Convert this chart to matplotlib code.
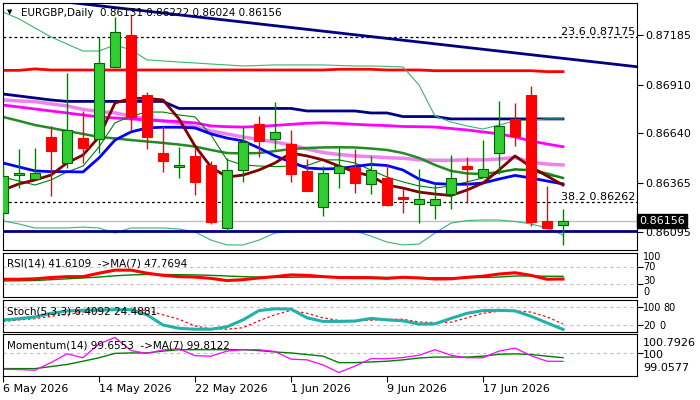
import matplotlib
matplotlib.use("Agg")
import matplotlib.pyplot as plt

# EURGBP daily candles (6 May .. 24 Jun 2026)
opens = [0.86201, 0.86408, 0.86386, 0.86618, 0.86478, 0.86613, 0.86607, 0.87006, 0.87185, 0.86851,
         0.86530, 0.86452, 0.86515, 0.86463, 0.86114, 0.86435, 0.86690, 0.86607, 0.86581, 0.86432,
         0.86230, 0.86419, 0.86452, 0.86358, 0.86391, 0.86289, 0.86247, 0.86242, 0.86303, 0.86459,
         0.86397, 0.86530, 0.86720, 0.86853, 0.86155, 0.86131]
highs = [0.86465, 0.86553, 0.86559, 0.86681, 0.86975, 0.86766, 0.87176, 0.87285, 0.87296, 0.86871,
         0.86681, 0.86566, 0.86561, 0.86489, 0.86502, 0.86674, 0.86736, 0.86814, 0.86659, 0.86496,
         0.86459, 0.86563, 0.86552, 0.86515, 0.86470, 0.86336, 0.86441, 0.86363, 0.86519, 0.86509,
         0.86603, 0.86819, 0.86807, 0.86902, 0.86350, 0.86222]
lows = [0.86166, 0.86337, 0.86385, 0.86295, 0.86450, 0.86476, 0.86533, 0.87002, 0.86653, 0.86553,
        0.86428, 0.86394, 0.86300, 0.86140, 0.86101, 0.86372, 0.86511, 0.86552, 0.86372, 0.86319,
        0.86184, 0.86339, 0.86308, 0.86303, 0.86238, 0.86201, 0.86142, 0.86167, 0.86219, 0.86253,
        0.86397, 0.86415, 0.86570, 0.86127, 0.86110, 0.86024]
closes = [0.86404, 0.86419, 0.86419, 0.86544, 0.86657, 0.86561, 0.87028, 0.87203, 0.86732, 0.86622,
          0.86489, 0.86463, 0.86372, 0.86147, 0.86435, 0.86591, 0.86599, 0.86646, 0.86417, 0.86322,
          0.86419, 0.86459, 0.86363, 0.86435, 0.86242, 0.86275, 0.86275, 0.86275, 0.86391, 0.86441,
          0.86441, 0.86679, 0.86627, 0.86151, 0.86114, 0.86156]

date_labels = ["6 May 2026", "14 May 2026", "22 May 2026", "1 Jun 2026", "9 Jun 2026", "17 Jun 2026"]
date_pos = [0, 6, 12, 18, 24, 30]

# moving averages on the price chart
ma_red = [0.86989, 0.86989, 0.86997, 0.86991, 0.86991, 0.86991, 0.86991, 0.86991, 0.86991, 0.86991,
          0.86991, 0.86991, 0.86991, 0.86991, 0.86991, 0.86991, 0.86991, 0.86991, 0.86991, 0.86991,
          0.86991, 0.86995, 0.86995, 0.86995, 0.86991, 0.86991, 0.86991, 0.86987, 0.86987, 0.86987,
          0.86987, 0.86987, 0.86987, 0.86987, 0.86982, 0.86982]
ma_navy = [0.86858, 0.86847, 0.86836, 0.86825, 0.86817, 0.86817, 0.86817, 0.86817, 0.86817, 0.86817,
           0.86817, 0.86778, 0.86778, 0.86778, 0.86778, 0.86778, 0.86778, 0.86778, 0.86778, 0.86764,
           0.86764, 0.86764, 0.86764, 0.86753, 0.86753, 0.86733, 0.86733, 0.86733, 0.86720, 0.86720,
           0.86720, 0.86720, 0.86720, 0.86720, 0.86720, 0.86720]
ma_magenta = [0.86797, 0.86786, 0.86775, 0.86764, 0.86753, 0.86742, 0.86731, 0.86725, 0.86720, 0.86714,
              0.86709, 0.86705, 0.86698, 0.86681, 0.86677, 0.86675, 0.86678, 0.86684, 0.86690, 0.86696,
              0.86699, 0.86695, 0.86690, 0.86686, 0.86683, 0.86678, 0.86677, 0.86675, 0.86667, 0.86659,
              0.86648, 0.86637, 0.86620, 0.86598, 0.86581, 0.86566]
ma_violet = [0.86825, 0.86819, 0.86816, 0.86803, 0.86792, 0.86773, 0.86761, 0.86753, 0.86736, 0.86720,
             0.86709, 0.86695, 0.86678, 0.86653, 0.86637, 0.86620, 0.86606, 0.86592, 0.86576, 0.86553,
             0.86534, 0.86523, 0.86515, 0.86511, 0.86505, 0.86502, 0.86494, 0.86491, 0.86491, 0.86493,
             0.86493, 0.86498, 0.86506, 0.86481, 0.86470, 0.86465]
ma_maroon = [0.86326, 0.86360, 0.86382, 0.86409, 0.86476, 0.86520, 0.86620, 0.86808, 0.86834, 0.86834,
             0.86825, 0.86720, 0.86570, 0.86454, 0.86398, 0.86409, 0.86437, 0.86476, 0.86531, 0.86515,
             0.86493, 0.86459, 0.86426, 0.86404, 0.86354, 0.86337, 0.86315, 0.86304, 0.86296, 0.86326,
             0.86365, 0.86437, 0.86515, 0.86454, 0.86404, 0.86354]
ma_blue = [0.86476, 0.86454, 0.86432, 0.86428, 0.86428, 0.86426, 0.86504, 0.86603, 0.86648, 0.86670,
           0.86674, 0.86674, 0.86670, 0.86637, 0.86614, 0.86598, 0.86559, 0.86515, 0.86481, 0.86448,
           0.86443, 0.86445, 0.86457, 0.86468, 0.86462, 0.86437, 0.86387, 0.86362, 0.86358, 0.86358,
           0.86365, 0.86387, 0.86407, 0.86393, 0.86376, 0.86360]
ma_green = [0.86731, 0.86709, 0.86686, 0.86670, 0.86653, 0.86637, 0.86620, 0.86612, 0.86603, 0.86595,
            0.86587, 0.86578, 0.86567, 0.86548, 0.86531, 0.86529, 0.86531, 0.86542, 0.86553, 0.86559,
            0.86562, 0.86563, 0.86562, 0.86556, 0.86548, 0.86531, 0.86504, 0.86465, 0.86432, 0.86418,
            0.86415, 0.86426, 0.86440, 0.86437, 0.86418, 0.86393]
ma_thin = [0.86398, 0.86376, 0.86354, 0.86382, 0.86426, 0.86459, 0.86565, 0.86698, 0.86736, 0.86758,
           0.86758, 0.86742, 0.86731, 0.86631, 0.86493, 0.86465, 0.86459, 0.86456, 0.86459, 0.86462,
           0.86493, 0.86493, 0.86476, 0.86437, 0.86398, 0.86371, 0.86349, 0.86337, 0.86349, 0.86371,
           0.86393, 0.86421, 0.86443, 0.86432, 0.86409, 0.86393]
bb_upper = [0.87312, 0.87274, 0.87224, 0.87174, 0.87135, 0.87096, 0.87096, 0.87130, 0.87102, 0.87047,
            0.87041, 0.87035, 0.87030, 0.87024, 0.87019, 0.87013, 0.87016, 0.87019, 0.87019, 0.87019,
            0.87019, 0.87016, 0.87013, 0.87013, 0.87011, 0.87008, 0.86908, 0.86736, 0.86703, 0.86681,
            0.86664, 0.86686, 0.86709, 0.86714, 0.86720, 0.86720]
bb_lower = [0.86155, 0.86138, 0.86116, 0.86116, 0.86116, 0.86121, 0.86116, 0.86088, 0.86116, 0.86116,
            0.86116, 0.86110, 0.86094, 0.86049, 0.86022, 0.86022, 0.86049, 0.86088, 0.86095, 0.86095,
            0.86095, 0.86102, 0.86099, 0.86071, 0.86038, 0.86022, 0.86027, 0.86088, 0.86143, 0.86157,
            0.86160, 0.86160, 0.86152, 0.86138, 0.86116, 0.86077]

trend_x = [0, 39.625]
trend_y = [0.87407, 0.87009]
support = 0.86100
fib_levels = [0.87175, 0.86262]
fib_names = ["23.6", "38.2"]
price_ticks = [0.87185, 0.86910, 0.86640, 0.86365, 0.86095]

rsi = [41, 41, 42, 45, 47, 47, 55, 62, 62, 55, 50, 47, 46, 43, 38, 40, 44, 47, 51, 50,
       47, 45, 44.6, 44.6, 43, 45.5, 44, 41.6, 42, 45.5, 48, 53, 56, 50, 41, 41.6109]
rsi_ma = [37, 37.5, 38, 40, 42, 44, 46, 49, 51, 52, 52, 51.5, 51, 50, 48.5, 47, 46, 45.5, 45.5, 46,
          46, 46.5, 46.5, 45.5, 45, 45, 45, 44.5, 44.5, 44.5, 45, 46, 48.5, 48.5, 48, 47.7694]
stoch_k = [38, 42, 48, 60, 68, 70, 71, 72, 72, 55, 21, 10, 7, 7, 15, 38, 69, 75, 74, 45,
           33, 33, 34, 43, 38, 35, 24, 25, 43, 60, 69, 70, 68, 50, 28, 6.4092]
stoch_d = [33, 38, 42, 50, 56, 64, 68, 70, 71, 70, 55, 40, 18, 8, 7, 12, 35, 55, 70, 60,
           45, 36, 36, 37, 40, 40, 31, 29, 30, 45, 60, 67, 68, 64, 48, 24.4881]
mom = [99.31, 99.30, 99.27, 99.60, 99.98, 99.81, 100.41, 100.69, 100.12, 100.00,
       100.15, 100.20, 99.90, 99.88, 100.10, 100.16, 100.16, 100.08, 99.75, 99.72,
       99.50, 99.17, 99.45, 99.77, 99.77, 99.82, 99.92, 100.16, 99.92, 99.81,
       99.81, 100.10, 100.23, 99.90, 99.66, 99.6553]
mom_ma = [99.34, 99.34, 99.34, 99.43, 99.52, 99.66, 99.81, 100.00, 100.02, 100.02,
          100.10, 100.16, 100.16, 100.16, 100.16, 100.16, 100.12, 100.06, 100.02, 99.95,
          99.88, 99.60, 99.60, 99.63, 99.66, 99.72, 99.80, 99.84, 99.84, 99.84,
          99.88, 99.96, 99.98, 99.95, 99.88, 99.8122]

W, H = 700, 400
fig = plt.figure(figsize=(7, 4), dpi=100)
fig.patch.set_facecolor("white")


def panel(top, bottom):
    # pixel box -> figure fraction
    return fig.add_axes([3 / W, (H - bottom) / H, 634 / W, (bottom - top) / H])


XMAX = 634 / 16
n = len(closes)
xs = list(range(n))
TXT = 7.5

ax = panel(3, 250)
ax_rsi = panel(253, 297)
ax_st = panel(300, 332)
ax_mo = panel(334, 376)

for a in (ax, ax_rsi, ax_st, ax_mo):
    a.set_xlim(0, XMAX)
    a.set_facecolor("white")
    for s in a.spines.values():
        s.set_color("black")
        s.set_linewidth(0.8)
    a.yaxis.tick_right()
    a.tick_params(axis="y", length=4, width=0.8, pad=2, labelsize=8)
    a.tick_params(axis="x", length=0, labelbottom=False)

# ---- price chart ----
ax.set_ylim(0.85994, 0.87362)
ax.plot(trend_x, trend_y, color="#000080", lw=2, zorder=2)
ax.plot(xs, ma_red, color="red", lw=2, zorder=2)
ax.plot(xs, ma_navy, color="#000080", lw=2, zorder=2)
ax.plot(xs, ma_violet, color="#EE82EE", lw=2.5, zorder=2)
ax.plot(xs, ma_magenta, color="#FF00FF", lw=2, zorder=2)
ax.plot(xs, bb_upper, color="#3CB371", lw=0.8, zorder=2)
ax.plot(xs, bb_lower, color="#3CB371", lw=0.8, zorder=2)
ax.plot(xs, ma_green, color="#228B22", lw=1.8, zorder=2)
ax.plot(xs, ma_thin, color="#008000", lw=0.8, zorder=2)
ax.plot(xs, ma_blue, color="#0000FF", lw=2, zorder=2)
ax.plot(xs, ma_maroon, color="#800000", lw=2, zorder=2)
ax.axhline(support, color="#000080", lw=2, zorder=2)
ax.axhline(closes[-1], color="#C0C0C0", lw=1, zorder=1)

for lvl, name in zip(fib_levels, fib_names):
    ax.axhline(lvl, color="black", lw=0.9, linestyle=(0, (2.2, 2.2)), zorder=1)
    ax.text(39.5, lvl, f"{name} {lvl:.5f}", ha="right", va="bottom", fontsize=8, zorder=5)

for i in xs:
    o, h, l, c = opens[i], highs[i], lows[i], closes[i]
    bull = c >= o
    wick = "#008000" if bull else "#B22222"
    face = "#32CD32" if bull else "#FF0000"
    edge = "#006400" if bull else "#FF0000"
    ax.vlines(i, l, h, color=wick, lw=1, zorder=3)
    ax.bar(i, abs(c - o), bottom=min(o, c), width=0.62, color=face,
           edgecolor=edge, linewidth=0.8, zorder=4)

ax.set_yticks(price_ticks)
ax.set_yticklabels([f"{t:.5f}" for t in price_ticks])
ax.text(1.003, closes[-1], f"{closes[-1]:.5f}", transform=ax.get_yaxis_transform(),
        color="white", fontsize=8, va="center", ha="left",
        bbox=dict(facecolor="black", edgecolor="black", pad=1.6), zorder=6, clip_on=False)

fig.text(7 / W, 1 - 12.5 / H, "\u25BC", fontsize=5, va="center")
fig.text(21 / W, 1 - 12.5 / H,
         f"EURGBP,Daily  {opens[-1]:.5f} {highs[-1]:.5f} {lows[-1]:.5f} {closes[-1]:.5f}",
         fontsize=TXT, va="center")

# ---- RSI ----
ax_rsi.set_ylim(0, 101.6)
for lvl in (70, 30):
    ax_rsi.axhline(lvl, color="#C0C0C0", lw=0.8, linestyle=(0, (3, 3)))
ax_rsi.plot(xs, rsi_ma, color="#008000", lw=1)
ax_rsi.plot(xs, rsi, color="red", lw=2.2)
ax_rsi.set_yticks([70, 30])
ax_rsi.set_yticklabels([])
for txt, yp in (("100", 257), ("70", 267.5), ("30", 281.5), ("0", 292)):
    fig.text(643 / W, 1 - yp / H, txt, fontsize=7, va="center")
fig.text(7 / W, 1 - 263.5 / H, f"RSI(14) {rsi[-1]:.4f}  ->MA(7) {rsi_ma[-1]:.4f}",
         fontsize=TXT, va="center")

# ---- Stochastic ----
ax_st.set_ylim(-2.3, 104.3)
for lvl in (80, 20):
    ax_st.axhline(lvl, color="#C0C0C0", lw=0.8, linestyle=(0, (3, 3)))
ax_st.plot(xs, stoch_d, color="red", lw=0.9, linestyle=(0, (2, 2)))
ax_st.plot(xs, stoch_k, color="#20B2AA", lw=2.2)
ax_st.set_yticks([80, 20])
ax_st.set_yticklabels([])
for txt, x0, yp in (("100", 643, 308.3), ("80", 663, 308.3), ("20", 643, 326), ("0", 659, 326)):
    fig.text(x0 / W, 1 - yp / H, txt, fontsize=7, va="center")
fig.text(7 / W, 1 - 311.5 / H, f"Stoch(5,3,3) {stoch_k[-1]:.4f} {stoch_d[-1]:.4f}",
         fontsize=TXT, va="center")

# ---- Momentum ----
ax_mo.set_ylim(99.02, 100.84)
ax_mo.axhline(100, color="#C0C0C0", lw=0.8, linestyle=(0, (3, 3)))
ax_mo.plot(xs, mom_ma, color="#008000", lw=1)
ax_mo.plot(xs, mom, color="#FF00FF", lw=0.9)
ax_mo.set_yticks([100])
ax_mo.set_yticklabels([])
for txt, yp in (("100.7926", 343.5), ("100", 354.7), ("99.0577", 368.3)):
    fig.text(643 / W, 1 - yp / H, txt, fontsize=8, va="center")
fig.text(7 / W, 1 - 346 / H, f"Momentum(14) {mom[-1]:.4f}  ->MA(7) {mom_ma[-1]:.4f}",
         fontsize=TXT, va="center")

ax_mo.set_xticks(date_pos)
ax_mo.set_xticklabels(date_labels)
ax_mo.tick_params(axis="x", length=4, width=0.8, pad=2, labelsize=8, labelbottom=True)
for lab in ax_mo.get_xticklabels():
    lab.set_ha("left")

fig.savefig("out.png", dpi=100, facecolor="white")
